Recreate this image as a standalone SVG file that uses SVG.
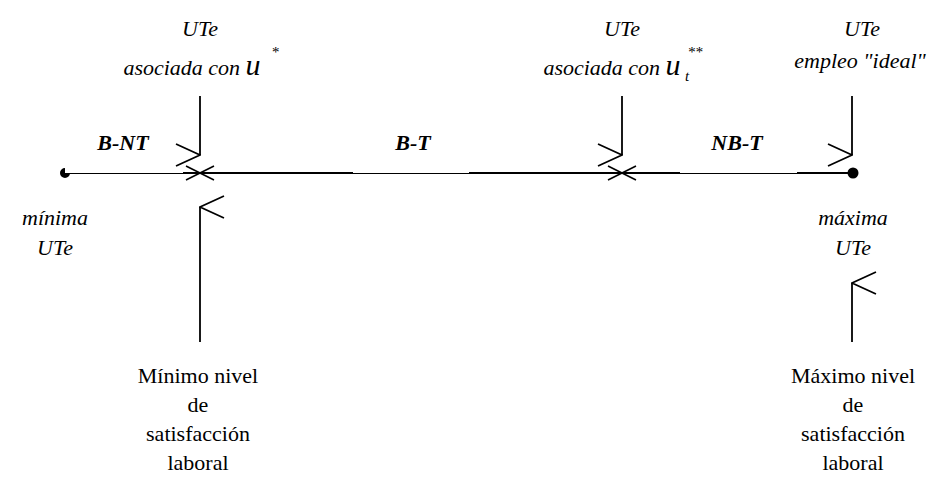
<svg xmlns="http://www.w3.org/2000/svg" width="942" height="477" viewBox="0 0 942 477">
  <defs>
    <marker id="open-head" viewBox="0 0 24 26" refX="12" refY="1" markerWidth="24" markerHeight="26" markerUnits="userSpaceOnUse" orient="auto-start-reverse">
      <path d="M1,25 L12,1 L23,25" fill="none" stroke="#000" stroke-width="1.8"/>
    </marker>
  </defs>
  <rect width="942" height="477" fill="#fff"/>

  <!-- scale axis: alternating thin and heavy runs -->
  <g id="axis" stroke="#000" fill="none">
    <line stroke-width="1" x1="65" y1="173.5" x2="183" y2="173.5"/>
    <line stroke-width="2" x1="183" y1="173" x2="353" y2="173"/>
    <line stroke-width="1" x1="353" y1="173.5" x2="469" y2="173.5"/>
    <line stroke-width="2" x1="469" y1="173" x2="680" y2="173"/>
    <line stroke-width="1" x1="680" y1="173.5" x2="797" y2="173.5"/>
    <line stroke-width="2" x1="797" y1="173" x2="853" y2="173"/>
    <path d="M65,168 A5,5 0 1,0 70,173 L65,173 Z" fill="#000" stroke="none"/>
    <circle cx="853" cy="173" r="5.5" fill="#000" stroke="none"/>
    <path stroke-width="1.6" d="M186,166 L214,180 M186,180 L214,166"/>
    <path stroke-width="1.6" d="M608,166 L636,180 M608,180 L636,166"/>
  </g>

  <!-- segment labels -->
  <g id="seg-bnt"><text font-family="Liberation Serif" font-size="22" font-style="italic" font-weight="bold" text-anchor="middle" x="123" y="150">B-NT</text></g>
  <g id="seg-bt"><text font-family="Liberation Serif" font-size="22" font-style="italic" font-weight="bold" text-anchor="middle" x="413" y="150">B-T</text></g>
  <g id="seg-nbt"><text font-family="Liberation Serif" font-size="22" font-style="italic" font-weight="bold" text-anchor="middle" x="737" y="150">NB-T</text></g>

  <!-- upper labels -->
  <g id="ute-u">
    <text font-family="Liberation Serif" font-size="22" font-style="italic" text-anchor="middle" x="200" y="36">UTe</text>
    <text font-family="Liberation Serif" font-size="22" font-style="italic" text-anchor="middle" x="192" y="75">asociada con <tspan font-size="30">u</tspan></text>
    <text font-family="Liberation Serif" font-size="15" font-style="italic" text-anchor="middle" x="275" y="57">*</text>
  </g>
  <g id="ute-ut">
    <text font-family="Liberation Serif" font-size="22" font-style="italic" text-anchor="middle" x="622" y="36">UTe</text>
    <text font-family="Liberation Serif" font-size="22" font-style="italic" text-anchor="middle" x="612" y="75">asociada con <tspan font-size="30">u</tspan></text>
    <text font-family="Liberation Serif" font-size="15" font-style="italic" text-anchor="middle" x="687" y="81">t</text>
    <text font-family="Liberation Serif" font-size="15" font-style="italic" text-anchor="middle" x="695" y="57">**</text>
  </g>
  <g id="ute-ideal">
    <text font-family="Liberation Serif" font-size="22" font-style="italic" text-anchor="middle" x="862" y="36">UTe</text>
    <text font-family="Liberation Serif" font-size="22" font-style="italic" text-anchor="middle" x="860" y="68">empleo "ideal"</text>
  </g>

  <!-- end labels -->
  <g id="min-ute">
    <text font-family="Liberation Serif" font-size="22" font-style="italic" text-anchor="middle" x="55" y="225">m&#237;nima</text>
    <text font-family="Liberation Serif" font-size="22" font-style="italic" text-anchor="middle" x="55" y="255">UTe</text>
  </g>
  <g id="max-ute">
    <text font-family="Liberation Serif" font-size="22" font-style="italic" text-anchor="middle" x="853" y="225">m&#225;xima</text>
    <text font-family="Liberation Serif" font-size="22" font-style="italic" text-anchor="middle" x="853" y="255">UTe</text>
  </g>

  <!-- satisfaction labels -->
  <g id="min-sat">
    <text font-family="Liberation Serif" font-size="22" text-anchor="middle" x="198" y="383">M&#237;nimo nivel</text>
    <text font-family="Liberation Serif" font-size="22" text-anchor="middle" x="198" y="412">de</text>
    <text font-family="Liberation Serif" font-size="22" text-anchor="middle" x="198" y="441">satisfacci&#243;n</text>
    <text font-family="Liberation Serif" font-size="22" text-anchor="middle" x="198" y="470">laboral</text>
  </g>
  <g id="max-sat">
    <text font-family="Liberation Serif" font-size="22" text-anchor="middle" x="853" y="383">M&#225;ximo nivel</text>
    <text font-family="Liberation Serif" font-size="22" text-anchor="middle" x="853" y="412">de</text>
    <text font-family="Liberation Serif" font-size="22" text-anchor="middle" x="853" y="441">satisfacci&#243;n</text>
    <text font-family="Liberation Serif" font-size="22" text-anchor="middle" x="853" y="470">laboral</text>
  </g>

  <!-- arrows -->
  <g id="connectors" stroke="#000" stroke-width="1.8" fill="none">
    <line x1="200" y1="96" x2="200" y2="155" marker-end="url(#open-head)"/>
    <line x1="622" y1="96" x2="622" y2="155" marker-end="url(#open-head)"/>
    <line x1="852" y1="96" x2="852" y2="155" marker-end="url(#open-head)"/>
    <line x1="200" y1="342" x2="200" y2="207" marker-end="url(#open-head)"/>
    <line x1="852" y1="342" x2="852" y2="283" marker-end="url(#open-head)"/>
  </g>
</svg>
